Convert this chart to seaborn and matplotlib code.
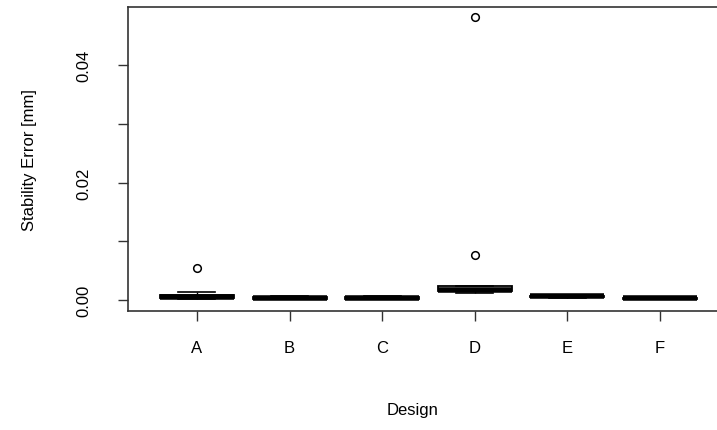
import matplotlib
matplotlib.use("Agg")
import matplotlib.pyplot as plt
import seaborn as sns
import pandas as pd

# stability error per design (mm)
designs = ["A", "B", "C", "D", "E", "F"]
err_a = [0.0001, 0.0002, 0.0003, 0.0004, 0.0005, 0.0005, 0.0006, 0.0007, 0.0008, 0.0010, 0.0014, 0.0055]
err_b = [0.0001, 0.0002, 0.0002, 0.0003, 0.0003, 0.0004, 0.0005, 0.0006, 0.0007]
err_c = [0.0001, 0.0002, 0.0002, 0.0003, 0.0003, 0.0004, 0.0005, 0.0006, 0.0007]
err_d = [0.0012, 0.0013, 0.0014, 0.0015, 0.0016, 0.0017, 0.0019, 0.0022, 0.0024, 0.0077, 0.0482]
err_e = [0.0004, 0.0005, 0.0005, 0.0006, 0.0006, 0.0006, 0.0007, 0.0007]
err_f = [0.0002, 0.0002, 0.0003, 0.0003, 0.0003, 0.0004, 0.0004]

y_ticks = [0.0, 0.01, 0.02, 0.03, 0.04]
y_ticklabels = ["0.00", "", "0.02", "", "0.04"]

rows = []
for d, vals in zip(designs, [err_a, err_b, err_c, err_d, err_e, err_f]):
    for v in vals:
        rows.append({"Design": d, "Error": v})
df = pd.DataFrame(rows)

plt.rcParams["font.family"] = ["Liberation Sans", "DejaVu Sans"]

fig = plt.figure(figsize=(7.17, 4.31), dpi=100)
W, H = 717, 431
left, right, top, bottom = 128.4, 728.6, 8, 312
ax = fig.add_axes([left / W, 1 - bottom / H, (right - left) / W, (bottom - top) / H])

sns.boxplot(data=df, x="Design", y="Error", order=designs, ax=ax,
            color="white", linecolor="black", linewidth=1.3, width=0.8, whis=1.5,
            medianprops=dict(linewidth=4, color="black", solid_capstyle="butt"),
            whiskerprops=dict(linestyle="--", linewidth=1),
            capprops=dict(linewidth=1.2),
            capwidths=0.4,
            flierprops=dict(marker="o", markerfacecolor="none", markeredgecolor="black",
                            markersize=5.5, markeredgewidth=1.1))

ax.set_xlim(-0.74, 5.74)
ax.set_ylim(-0.00187, 0.04987)
ax.set_yticks(y_ticks)
ax.set_yticklabels(y_ticklabels, rotation=90, va="center")
ax.tick_params(axis="both", length=7, width=1, labelsize=12, direction="out", colors="#333333")
ax.tick_params(axis="x", pad=14, labelcolor="black")
ax.tick_params(axis="y", pad=20, labelcolor="black")
for s in ax.spines.values():
    s.set_color("#333333")
    s.set_linewidth(1.2)

ax.set_xlabel("Design", fontsize=12)
ax.set_ylabel("Stability Error [mm]", fontsize=12)
ax.xaxis.set_label_coords((413 - left) / (right - left), -(411 - bottom) / (bottom - top))
ax.yaxis.set_label_coords(-(left - 30) / (right - left), 0.5)
ax.xaxis.label.set_va("center")
ax.yaxis.label.set_va("center")

fig.savefig("out.png", dpi=100)
